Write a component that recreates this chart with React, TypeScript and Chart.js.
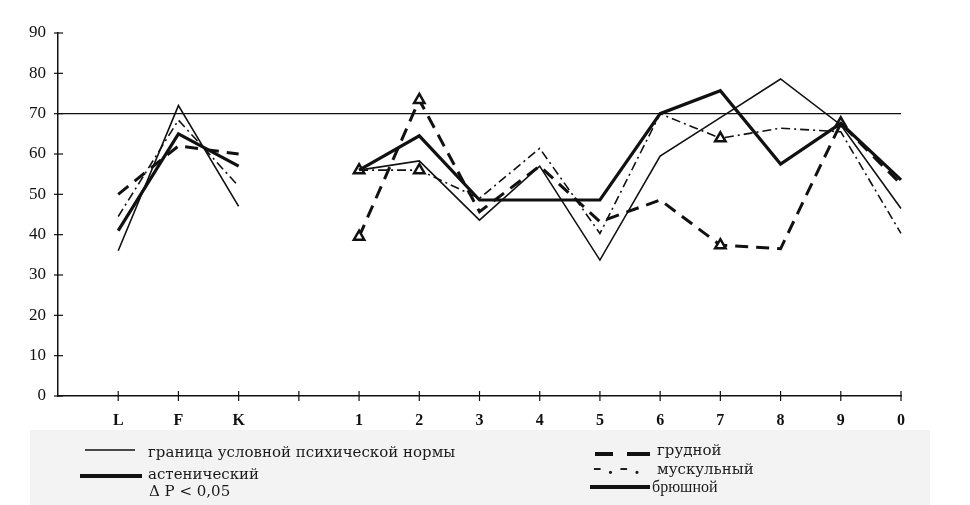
import React, { useEffect, useRef } from "react";
import { Chart, registerables } from "chart.js";

Chart.register(...registerables);

const categories = ["", "L", "F", "K", "", "1", "2", "3", "4", "5", "6", "7", "8", "9", "0"];
const yTicks = [0, 10, 20, 30, 40, 50, 60, 70, 80, 90];

const normBorder = [70, 70, 70, 70, 70, 70, 70, 70, 70, 70, 70, 70, 70, 70, 70];
const asthenic = [null, 41, 65, 57, null, 56, 64.5, 48.6, 48.6, 48.6, 70, 75.7, 57.5, 67.6, 53.6];
const abdominal = [null, 36, 72, 47, null, 56, 58.3, 43.6, 57, 33.7, 59.5, 69, 78.6, 67.2, 46.5];
const muscular = [null, 44.5, 68.4, 52, null, 56, 56, 49, 61.4, 40.3, 70, 63.9, 66.4, 65.5, 40.3];
const thoracic = [null, 50, 62, 60, null, 39.5, 73.4, 45.7, 57, 43.2, 48.6, 37.4, 36.5, 67.6, 52.5];

const sigThoracic = [5, 6, 11, 13];
const sigMuscular = [5, 6, 11];

const FONT = "'Liberation Serif', 'Times New Roman', serif";
const WIDE = "'DejaVu Serif', serif";

const crossTicks = {
  id: "crossTicks",
  afterDraw(chart: any) {
    const ctx = chart.ctx;
    const xs = chart.scales.x;
    const ys = chart.scales.y;
    ctx.save();
    ctx.strokeStyle = "#111";
    ctx.lineWidth = 1.2;
    ys.ticks.forEach((_t: any, i: number) => {
      const y = ys.getPixelForTick(i);
      ctx.beginPath();
      ctx.moveTo(xs.left - 4, y);
      ctx.lineTo(xs.left + 5, y);
      ctx.stroke();
    });
    xs.ticks.forEach((_t: any, i: number) => {
      if (i === 0) return;
      const x = xs.getPixelForTick(i);
      ctx.beginPath();
      ctx.moveTo(x, ys.bottom - 5);
      ctx.lineTo(x, ys.bottom + 5);
      ctx.stroke();
    });
    ctx.restore();
  },
};

function sigRadius(idx: number[]) {
  return (c: any) => (idx.includes(c.dataIndex) ? 6 : 0);
}

export default function App() {
  const ref = useRef<HTMLCanvasElement>(null);
  useEffect(() => {
    if (!ref.current) return;
    const chart = new Chart(ref.current, {
      type: "line",
      data: {
        labels: categories,
        datasets: [
          {
            label: "граница условной психической нормы",
            data: normBorder,
            borderColor: "#111",
            borderWidth: 1.3,
            pointRadius: 0,
          },
          {
            label: "брюшной",
            data: abdominal,
            borderColor: "#111",
            borderWidth: 1.6,
            pointRadius: 0,
          },
          {
            label: "астенический",
            data: asthenic,
            borderColor: "#111",
            borderWidth: 3.2,
            pointRadius: 0,
          },
          {
            label: "мускульный",
            data: muscular,
            borderColor: "#111",
            borderWidth: 1.6,
            borderDash: [9, 4, 2, 4],
            pointRadius: sigRadius(sigMuscular),
            pointStyle: "triangle",
            pointBackgroundColor: "#fff",
            pointBorderColor: "#111",
            pointBorderWidth: 2.5,
          },
          {
            label: "грудной",
            data: thoracic,
            borderColor: "#111",
            borderWidth: 3,
            borderDash: [13, 8],
            pointRadius: sigRadius(sigThoracic),
            pointStyle: "triangle",
            pointBackgroundColor: "#fff",
            pointBorderColor: "#111",
            pointBorderWidth: 2.5,
          },
        ],
      },
      options: {
        responsive: false,
        animation: false,
        devicePixelRatio: 1,
        spanGaps: false,
        layout: { padding: { left: 0, right: 69, top: 33, bottom: 0 } },
        plugins: { legend: { display: false }, tooltip: { enabled: false } },
        scales: {
          x: {
            type: "category",
            offset: false,
            grid: { drawOnChartArea: false, drawTicks: false },
            border: { display: true, color: "#111", width: 1.5 },
            ticks: {
              color: "#111",
              padding: 15,
              autoSkip: false,
              maxRotation: 0,
              font: { family: FONT, size: 16, weight: "bold" },
            },
            afterFit: (s: any) => {
              s.height = 34;
            },
          },
          y: {
            min: 0,
            max: 90,
            afterBuildTicks: (s: any) => {
              s.ticks = yTicks.map((v) => ({ value: v }));
            },
            grid: { drawOnChartArea: false, drawTicks: false },
            border: { display: true, color: "#111", width: 1.5 },
            ticks: {
              color: "#111",
              padding: 12,
              font: { family: FONT, size: 17 },
            },
            afterFit: (s: any) => {
              s.width = 58;
            },
          },
        },
      },
      plugins: [crossTicks],
    });
    return () => chart.destroy();
  }, []);

  const txt: React.CSSProperties = {
    position: "absolute",
    fontFamily: WIDE,
    fontSize: 15,
    color: "#1a1a1a",
    lineHeight: "18px",
    whiteSpace: "nowrap",
  };

  return (
    <div style={{ position: "fixed", left: 0, top: 0, width: 970, height: 505, background: "#fff", overflow: "hidden" }}>
      <canvas ref={ref} width={970} height={430} style={{ position: "absolute", left: 0, top: 0 }} />
      <div style={{ position: "absolute", left: 30, top: 430, width: 900, height: 75, background: "#f3f3f3" }} />
      <svg width={970} height={505} style={{ position: "absolute", left: 0, top: 0 }}>
        <line x1={85} y1={450} x2={135} y2={450} stroke="#111" strokeWidth={1.5} />
        <line x1={80} y1={476} x2={142} y2={476} stroke="#111" strokeWidth={4} />
        <line x1={595} y1={454} x2={650} y2={454} stroke="#111" strokeWidth={4} strokeDasharray="18 14 23" />
        <line x1={590} y1={487} x2={650} y2={487} stroke="#111" strokeWidth={4} />
      </svg>
      <div style={{ ...txt, left: 148, top: 443 }}>граница условной психической нормы</div>
      <div style={{ ...txt, left: 148, top: 465 }}>астенический</div>
      <div style={{ ...txt, left: 149, top: 482 }}>Δ P &lt; 0,05</div>
      <div style={{ ...txt, left: 657, top: 441 }}>грудной</div>
      <div style={{ ...txt, left: 593, top: 459, fontSize: 17, fontWeight: "bold", letterSpacing: 6 }}>–.–.</div>
      <div style={{ ...txt, left: 657, top: 460 }}>мускульный</div>
      <div style={{ ...txt, fontFamily: FONT, fontSize: 16, left: 652, top: 478 }}>брюшной</div>
    </div>
  );
}
